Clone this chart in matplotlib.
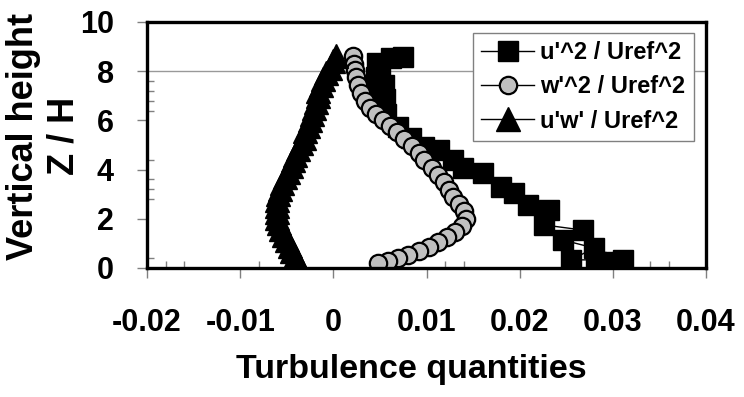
import numpy as np
import matplotlib
matplotlib.use('Agg')
from matplotlib import pyplot as plt
from matplotlib.ticker import FixedLocator

plt.rcParams['font.family'] = ['Liberation Sans', 'DejaVu Sans']
plt.rcParams['font.weight'] = 'bold'

# u'^2 / Uref^2
uu_x = [0.0075, 0.0062, 0.0047, 0.0050, 0.0046, 0.0054, 0.0047, 0.0055, 0.0050,
        0.0056, 0.0069, 0.0083, 0.0097, 0.0113, 0.0128, 0.0139, 0.0161, 0.0180,
        0.0194, 0.0209, 0.0231, 0.0226, 0.0268, 0.0246, 0.0280, 0.0255, 0.0311,
        0.0282, 0.0298]
uu_z = [8.58, 8.52, 8.35, 8.05, 7.75, 7.45, 7.15, 6.85, 6.55,
        6.25, 5.75, 5.28, 4.92, 4.80, 4.39, 4.07, 3.86, 3.29,
        3.05, 2.56, 2.36, 1.75, 1.54, 1.14, 0.81, 0.33, 0.33,
        0.24, 0.24]

# w'^2 / Uref^2
ww_x = [0.00215, 0.00226, 0.00237, 0.00247, 0.00269, 0.00301, 0.00344, 0.00398,
        0.00462, 0.00538, 0.00613, 0.00688, 0.00763, 0.00839, 0.00914, 0.00978,
        0.01054, 0.01118, 0.01183, 0.01237, 0.01280, 0.01344, 0.01398, 0.01419,
        0.01376, 0.01301, 0.01215, 0.01118, 0.01022, 0.00914, 0.00806, 0.00699,
        0.00591, 0.00484]
ww_z = [8.62, 8.29, 8.05, 7.76, 7.44, 7.11, 6.79, 6.50,
        6.26, 6.02, 5.77, 5.53, 5.24, 4.96, 4.67, 4.39,
        4.07, 3.78, 3.50, 3.17, 2.89, 2.60, 2.32, 1.99,
        1.71, 1.46, 1.26, 1.06, 0.85, 0.69, 0.53, 0.41,
        0.28, 0.20]

# u'w' / Uref^2
uw_x = [0.0003, 0.0000, -0.0004, -0.0008, -0.0011, -0.0013, -0.0016, -0.0017,
        -0.0019, -0.0021, -0.0023, -0.0025, -0.0027, -0.0030, -0.0032, -0.0035,
        -0.0038, -0.0041, -0.0043, -0.0046, -0.0049, -0.0052, -0.0055, -0.0057,
        -0.0059, -0.0060, -0.0061, -0.0061, -0.0060, -0.0058, -0.0056, -0.0053,
        -0.0050, -0.0047, -0.0044, -0.0041, -0.0039, -0.0037]
uw_z = [8.62, 8.40, 8.15, 7.92, 7.68, 7.45, 7.20, 6.98,
        6.75, 6.50, 6.27, 6.02, 5.78, 5.55, 5.30, 5.08,
        4.85, 4.60, 4.38, 4.15, 3.92, 3.70, 3.45, 3.22,
        3.00, 2.75, 2.52, 2.28, 2.05, 1.82, 1.58, 1.35,
        1.12, 0.90, 0.68, 0.45, 0.25, 0.12]

xticks = [-0.02, -0.01, 0, 0.01, 0.02, 0.03, 0.04]
xticklabels = ['-0.02', '-0.01', '0', '0.01', '0.02', '0.03', '0.04']
yticks = [0, 2, 4, 6, 8, 10]

fig = plt.figure(figsize=(7.44, 3.97), dpi=100)
ax = fig.add_axes([0.1976, 0.325, 0.7514, 0.6196])

ax.plot(uu_x, uu_z, color='black', lw=1, marker='s', ms=15,
        mfc='black', mec='black', label="u'^2 / Uref^2", zorder=3)
ax.plot(ww_x, ww_z, color='black', lw=1, marker='o', ms=12.5,
        mfc='#c0c0c0', mec='black', mew=1.6, label="w'^2 / Uref^2", zorder=4)
ax.plot(uw_x, uw_z, color='black', lw=1, marker='^', ms=17,
        mfc='black', mec='black', label="u'w' / Uref^2", zorder=5)

ax.set_xlim(-0.02, 0.04)
ax.set_ylim(0, 10)
ax.set_xticks(xticks)
ax.set_xticklabels(xticklabels)
ax.set_yticks(yticks)
ax.xaxis.set_minor_locator(FixedLocator([-0.018, -0.016, -0.008, 0.012, 0.014, 0.034, 0.036]))
ax.yaxis.set_minor_locator(FixedLocator([0.4, 2.8, 3.2, 3.6, 4.4, 6.4, 6.8, 7.2, 7.6]))
ax.tick_params(which='major', direction='out', length=7, width=1, color='#808080',
               labelsize=22)
ax.tick_params(axis='x', which='major', pad=22)
ax.tick_params(axis='y', which='major', pad=17)
ax.tick_params(which='minor', direction='in', length=5, width=1, color='#808080')

# gridline at Z/H = 8
ax.axhline(8, color='#999999', lw=1, zorder=1)

for sp in ax.spines.values():
    sp.set_linewidth(2.4)
    sp.set_color('black')
    sp.set_zorder(6)

fig.text(411 / 744, 1 - 378 / 397, 'Turbulence quantities', ha='center',
         va='baseline', fontsize=24.5, fontweight='bold')
fig.text(44 / 744, 1 - 136 / 397, 'Vertical height\nZ / H', rotation=90,
         ha='center', va='center', fontsize=26, fontweight='bold',
         multialignment='center', linespacing=1.2)

leg = ax.legend(loc='upper left', bbox_to_anchor=(0.583, 0.955), fontsize=17,
                frameon=True, fancybox=False, framealpha=1, edgecolor='#808080',
                handlelength=2.25, handletextpad=0.25, labelspacing=0.47,
                borderpad=0.35, borderaxespad=0)
leg.get_frame().set_linewidth(1)
leg.set_zorder(7)

fig.savefig('out.png', dpi=100)
